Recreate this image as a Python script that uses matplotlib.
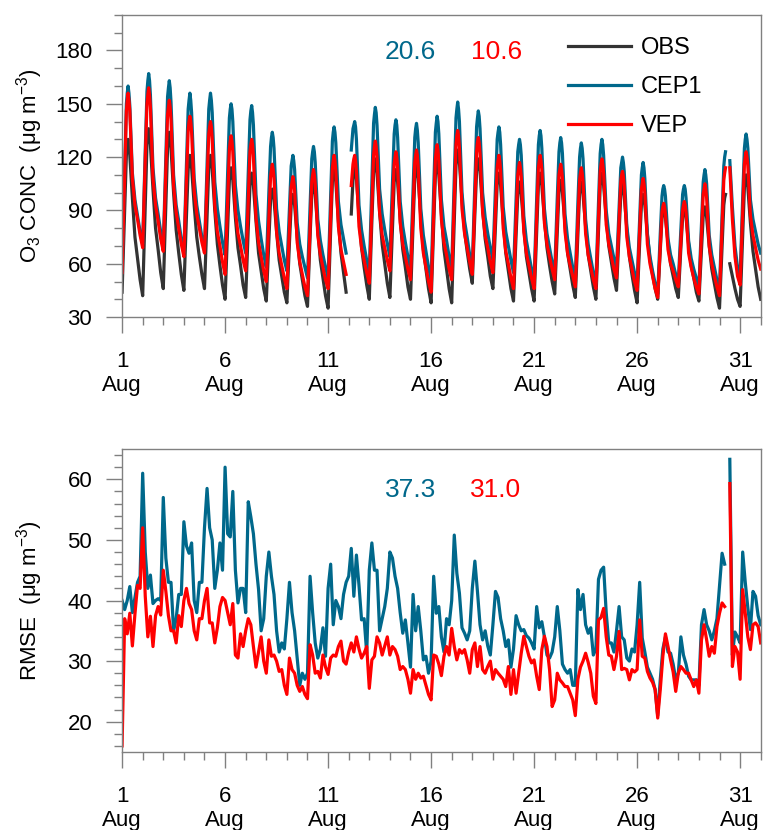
import numpy as np
import matplotlib
matplotlib.use("Agg")
import matplotlib.pyplot as plt

plt.rcParams['font.family'] = ['Liberation Sans', 'DejaVu Sans']
plt.rcParams['mathtext.fontset'] = 'custom'
plt.rcParams['mathtext.rm'] = 'Liberation Sans'
plt.rcParams['mathtext.it'] = 'Liberation Sans:italic'

nan = np.nan

# ---------------- data: top panel (O3 concentration, hours of each day) -------------
HOURS_TOP = [0, 3, 5, 6, 7, 8, 9, 12, 15, 18, 21]
OBS = [
    [44, 91, 121, 127, 130, 127, 121, 97, 75, 63, 51],
    [42, 94, 127, 132, 136, 133, 127, 102, 80, 68, 55],
    [46, 94, 125, 131, 134, 131, 125, 100, 79, 66, 54],
    [45, 87, 113, 118, 121, 118, 114, 93, 75, 64, 54],
    [46, 87, 114, 118, 121, 118, 113, 90, 71, 59, 48],
    [40, 81, 107, 111, 114, 111, 107, 86, 69, 59, 48],
    [41, 80, 104, 108, 111, 108, 104, 84, 66, 56, 46],
    [39, 74, 96, 100, 102, 100, 96, 78, 62, 53, 44],
    [38, 72, 93, 97, 99, 97, 93, 75, 60, 51, 42],
    [36, 75, 99, 103, 106, 103, 99, 79, 62, 52, 42],
    [35, 79, 106, 111, 114, 111, 106, 84, 66, 55, 44],
    [nan, 88, 107, 112, 115, 112, 108, 87, 69, 58, 48],
    [40, 84, 111, 116, 119, 116, 111, 89, 71, 60, 49],
    [41, 81, 106, 110, 113, 110, 106, 85, 68, 58, 47],
    [40, 82, 108, 113, 116, 113, 108, 86, 68, 57, 46],
    [38, 82, 110, 115, 118, 115, 110, 88, 68, 57, 46],
    [38, 85, 115, 121, 124, 121, 117, 96, 78, 67, 57],
    [49, 88, 112, 116, 119, 116, 112, 91, 74, 64, 53],
    [46, 82, 105, 109, 111, 108, 104, 84, 66, 56, 46],
    [39, 76, 99, 103, 106, 103, 99, 81, 64, 55, 46],
    [39, 79, 104, 108, 111, 108, 104, 85, 69, 59, 50],
    [43, 78, 101, 105, 107, 104, 100, 82, 66, 57, 48],
    [41, 77, 100, 103, 106, 103, 99, 81, 65, 56, 47],
    [40, 79, 104, 108, 111, 108, 104, 86, 70, 61, 52],
    [45, 78, 99, 103, 105, 102, 98, 80, 64, 54, 45],
    [38, 72, 93, 97, 99, 97, 93, 77, 62, 54, 46],
    [40, 68, 86, 89, 91, 89, 86, 72, 60, 53, 46],
    [41, 69, 86, 89, 91, 89, 86, 71, 59, 52, 44],
    [39, 68, 87, 90, 92, 90, 86, 70, 57, 49, 41],
    [35, 70, 93, 97, 99, nan, nan, 60, 53, 46, 40],
    [36, 77, 103, 107, 110, 107, 103, 83, 67, 57, 47],
]
OBS_END = 40

CEP1 = [
    [55, 113, 150, 156, 160, 156, 149, 111, 96, 87, 78],
    [71, 124, 157, 163, 167, 163, 155, 114, 97, 88, 78],
    [70, 121, 154, 159, 163, 159, 151, 110, 93, 84, 74],
    [66, 116, 147, 152, 156, 152, 145, 108, 93, 84, 75],
    [68, 116, 147, 152, 156, 152, 145, 106, 91, 81, 72],
    [65, 112, 142, 147, 150, 147, 140, 104, 90, 81, 73],
    [66, 112, 141, 146, 149, 145, 138, 99, 84, 74, 65],
    [58, 100, 126, 131, 134, 131, 125, 91, 78, 70, 62],
    [56, 92, 115, 118, 121, 118, 113, 83, 71, 64, 58],
    [52, 93, 119, 123, 126, 123, 117, 85, 73, 65, 58],
    [52, 99, 129, 134, 137, 134, 128, 95, 82, 74, 66],
    [nan, 124, 136, 138, 140, 137, 130, 93, 79, 70, 62],
    [55, 106, 139, 144, 148, 145, 138, 102, 88, 79, 71],
    [64, 106, 133, 138, 141, 138, 131, 95, 81, 72, 64],
    [57, 102, 131, 136, 139, 135, 128, 91, 76, 67, 58],
    [51, 102, 134, 139, 143, 140, 133, 96, 81, 73, 64],
    [57, 109, 142, 147, 151, 147, 140, 100, 84, 75, 65],
    [58, 106, 137, 142, 146, 143, 136, 100, 86, 77, 69],
    [62, 103, 130, 134, 137, 134, 127, 92, 78, 70, 62],
    [55, 96, 123, 127, 130, 127, 121, 87, 73, 65, 57],
    [51, 97, 127, 132, 135, 132, 125, 91, 77, 69, 61],
    [55, 97, 123, 128, 131, 128, 122, 88, 74, 66, 58],
    [52, 94, 120, 125, 128, 125, 119, 85, 71, 63, 55],
    [49, 94, 122, 127, 130, 127, 121, 90, 77, 70, 63],
    [57, 92, 114, 117, 120, 117, 112, 81, 69, 62, 55],
    [49, 86, 110, 114, 117, 114, 108, 76, 64, 56, 49],
    [43, 77, 98, 102, 104, 102, 98, 74, 65, 60, 54],
    [50, 80, 99, 102, 104, 102, 97, 73, 63, 57, 52],
    [47, 83, 106, 110, 113, 110, 105, 76, 65, 58, 51],
    [46, 88, 115, 120, 123, nan, nan, 118, 92, 70, 58],
    [52, 97, 125, 130, 133, 130, 125, 96, 85, 78, 71],
]
CEP1_END = 66

VEP = [
    [55, 111, 146, 152, 156, 152, 146, 108, 93, 85, 76],
    [69, 119, 150, 155, 159, 155, 148, 108, 93, 84, 74],
    [67, 114, 144, 148, 152, 148, 141, 104, 89, 80, 71],
    [64, 108, 135, 140, 143, 140, 134, 101, 88, 80, 72],
    [66, 107, 133, 137, 140, 137, 130, 93, 78, 70, 61],
    [54, 97, 124, 129, 132, 129, 123, 90, 77, 70, 62],
    [56, 97, 123, 127, 130, 127, 120, 86, 72, 64, 56],
    [50, 86, 109, 113, 116, 113, 108, 78, 66, 59, 52],
    [46, 81, 103, 106, 109, 106, 101, 72, 61, 54, 47],
    [42, 81, 106, 110, 113, 110, 105, 76, 65, 58, 51],
    [46, 87, 114, 118, 121, 118, 112, 81, 68, 61, 54],
    [nan, 104, 116, 119, 121, 118, 112, 81, 69, 62, 55],
    [49, 93, 121, 126, 129, 126, 120, 89, 76, 69, 62],
    [56, 93, 116, 120, 123, 120, 114, 83, 71, 64, 57],
    [51, 91, 117, 121, 124, 121, 114, 80, 66, 58, 50],
    [44, 90, 119, 124, 127, 124, 118, 85, 72, 65, 57],
    [51, 97, 127, 132, 135, 132, 125, 91, 77, 69, 61],
    [54, 96, 123, 128, 131, 128, 122, 89, 76, 69, 61],
    [55, 91, 114, 118, 121, 118, 112, 80, 67, 60, 52],
    [46, 85, 110, 114, 117, 114, 109, 78, 66, 59, 52],
    [46, 87, 114, 118, 121, 118, 113, 83, 71, 64, 57],
    [51, 87, 110, 113, 116, 113, 108, 78, 66, 59, 53],
    [47, 84, 107, 111, 114, 111, 106, 77, 65, 58, 51],
    [46, 86, 112, 116, 119, 116, 111, 82, 71, 64, 57],
    [52, 85, 106, 110, 112, 109, 104, 75, 64, 57, 50],
    [45, 80, 102, 105, 108, 105, 100, 71, 60, 53, 46],
    [41, 70, 89, 92, 94, 92, 88, 68, 60, 56, 51],
    [47, 73, 90, 93, 95, 93, 89, 66, 58, 52, 47],
    [43, 77, 99, 102, 105, 102, 97, 70, 60, 53, 47],
    [42, 82, 107, 111, 114, nan, nan, 114, 85, 64, 53],
    [48, 89, 116, 120, 123, 120, 115, 87, 76, 69, 62],
]
VEP_END = 57

# ---------------- data: bottom panel (RMSE, 3-hourly) -------------
HOURS_BOT = [0, 3, 6, 9, 12, 15, 18, 21]
CEP1_RMSE = [
    [40, 38.5, 40, 42.3, 38, 40.5, 43, 44],
    [61, 48, 42, 44.2, 39.5, 40, 40.3, 40],
    [57, 47, 43, 43, 35, 37, 41, 41],
    [53, 49, 47.8, 49.5, 40, 38, 43, 43],
    [52, 58.5, 52, 50, 42, 45, 49.5, 45],
    [62, 51, 50.5, 58, 45, 39.6, 42, 42],
    [38, 56.3, 53.8, 51, 46, 41.8, 35, 37],
    [44, 48, 44, 41, 35, 31.5, 33, 32],
    [37, 43, 38, 35, 30.5, 26, 28, 27],
    [28, 44, 38, 33, 30.5, 32, 35.5, 30.8],
    [42, 46, 36, 40, 39, 37, 41, 43],
    [44, 48.6, 40.7, 47.5, 42.5, 36.8, 37, 31.3],
    [45, 49.5, 45, 45, 35, 37, 39, 42],
    [48, 47, 44, 42, 38, 34.6, 36.8, 33],
    [29, 41, 35, 39, 35, 30.2, 30.8, 28],
    [30, 44, 37.9, 39, 34, 31.5, 37, 36],
    [40, 50.8, 44.5, 41.2, 35.5, 34.6, 33.5, 35],
    [42, 46.5, 41.5, 36, 33.5, 35, 32.5, 31],
    [36, 41.5, 40.5, 37, 35, 32.4, 33.5, 29],
    [32, 37.5, 36, 35, 35.2, 34.2, 33.8, 33],
    [32, 39, 35.5, 36.5, 34, 31, 30.5, 31.5],
    [34, 39, 35, 29.5, 28.6, 28, 28.6, 26],
    [26, 41.8, 38.5, 41, 36, 34.6, 35.5, 31],
    [32, 43.5, 45, 45.5, 38, 33, 33, 31.5],
    [35, 39, 34, 33.5, 30.5, 30, 32, 31.5],
    [36, 43, 33.8, 31.5, 29, 28, 27, 25.3],
    [21, 27, 32, 34, 31.5, 31.3, 29.5, 27],
    [28, 34, 31, 29.5, 27.5, 26.9, 26.9, 26.9],
    [26, 36, 38.5, 36, 35, 33.5, 35, 37],
    [42.3, 47.8, 46, nan, 63.3, 31, 34.8, 34],
    [33, 48, 43, 38.8, 35.2, 41.5, 40.7, 37.5],
]
CEP1_RMSE_END = 36

VEP_RMSE = [
    [16, 37, 34.5, 37.9, 32.5, 37.8, 42.5, 42],
    [52, 40.7, 34, 37.4, 32.4, 37.5, 39, 37.6],
    [45, 41.5, 37.5, 35, 35, 33, 37.5, 35.7],
    [40, 42, 39.5, 38.5, 35, 33.5, 37, 37],
    [40, 42, 36.3, 36.3, 33, 35.5, 39, 40.5],
    [40, 38, 36, 39.5, 31, 30.5, 34.5, 32.4],
    [35, 37, 36, 32.4, 29, 31.5, 34, 30],
    [28, 33.5, 30.8, 31, 30, 28.3, 28.6, 26],
    [24.5, 30.5, 28.6, 28, 26, 25, 25.8, 24.5],
    [23.8, 32.7, 31, 28, 28.3, 27.2, 31, 29],
    [27.8, 30.5, 31, 30.8, 32.4, 33.3, 30, 29.5],
    [31.5, 33, 31.5, 34, 32, 30.5, 31.3, 32.4],
    [25.5, 30.2, 30.8, 34, 33, 31, 32.5, 34],
    [31, 32.4, 31.9, 30.8, 28.6, 29.1, 28.6, 27],
    [24.7, 28.6, 27, 28, 27.2, 27.5, 26, 24.5],
    [23.6, 31, 30.8, 29.5, 27.6, 30.8, 32.4, 31],
    [35.4, 32.4, 30.2, 31.9, 31.3, 31.9, 30.2, 28],
    [31.9, 33, 29.1, 32.4, 28.6, 28, 29.1, 30],
    [27, 28.6, 28, 27.5, 27, 25.8, 29.1, 24.5],
    [28.6, 24.7, 28, 31.3, 34.1, 32.4, 30.8, 29.7],
    [30.2, 27.5, 25.3, 31.9, 34.1, 32.4, 28.6, 22.5],
    [23.6, 28, 26.9, 26.4, 25.8, 25.8, 24.7, 23.6],
    [21, 27, 29, 30, 31.3, 29.8, 28, 24.2],
    [23, 36.8, 37.2, 38.7, 34, 31, 30.8, 28.6],
    [30.8, 34.9, 28.6, 28.8, 28.6, 26.9, 28.6, 28.2],
    [28.6, 36.8, 30.8, 30.5, 28.3, 27.2, 26.5, 25.3],
    [20.6, 25.3, 30.8, 34.5, 32.4, 30.2, 28.2, 25],
    [28, 29.1, 28.6, 28, 28, 26.9, 25.8, 26.9],
    [24.7, 33.5, 36, 33.5, 30.8, 32.4, 31.3, 35.7],
    [37.9, 39.6, 39, nan, 59.3, 29.1, 32.4, 31.5],
    [27, 41.8, 37.9, 34, 31.9, 36, 36.3, 35.7],
]
VEP_RMSE_END = 33

SERIES_LABELS = ['OBS', 'CEP1', 'VEP']
TOP_SCORES = ['20.6', '10.6']
BOT_SCORES = ['37.3', '31.0']
MAJOR_DAYS = [1, 6, 11, 16, 21, 26, 31]
MONTH = 'Aug'

C_OBS = '#333333'
C_CEP = '#00688B'
C_VEP = '#FF0000'


def build(daily, end, hours):
    t, v = [], []
    for d, vals in enumerate(daily):
        for h, val in zip(hours, vals):
            t.append(1 + d + h / 24.0)
            v.append(val)
    t.append(1 + len(daily))
    v.append(end)
    return np.array(t), np.array(v, dtype=float)


fig = plt.figure(figsize=(7.63, 8.30), dpi=100)
ax1 = fig.add_axes([0.160, 0.618, 0.837, 0.364])
ax2 = fig.add_axes([0.160, 0.094, 0.837, 0.365])

lw = 2.3
for data, end, col, lab in [(OBS, OBS_END, C_OBS, SERIES_LABELS[0]),
                            (CEP1, CEP1_END, C_CEP, SERIES_LABELS[1]),
                            (VEP, VEP_END, C_VEP, SERIES_LABELS[2])]:
    t, v = build(data, end, HOURS_TOP)
    ax1.plot(t, v, color=col, lw=lw, label=lab, solid_joinstyle='round')

for data, end, col in [(CEP1_RMSE, CEP1_RMSE_END, C_CEP),
                       (VEP_RMSE, VEP_RMSE_END, C_VEP)]:
    t, v = build(data, end, HOURS_BOT)
    ax2.plot(t, v, color=col, lw=lw, solid_joinstyle='round')

spine_col = '#808080'
for ax in (ax1, ax2):
    ax.set_xlim(1, 32)
    ax.set_xticks(MAJOR_DAYS)
    ax.set_xticklabels([f'{d}\n{MONTH}' for d in MAJOR_DAYS])
    ax.set_xticks(np.arange(1, 33), minor=True)
    for s in ax.spines.values():
        s.set_color(spine_col)
        s.set_linewidth(1.0)
    ax.tick_params(which='both', direction='out', color=spine_col, width=1.0,
                   labelsize=16, labelcolor='black')
    ax.tick_params(which='major', length=11.5)
    ax.tick_params(which='minor', length=5.5)
    ax.tick_params(axis='x', which='major', pad=13)
    ax.tick_params(axis='y', which='major', pad=10)

ax1.set_ylim(30, 200)
ax1.set_yticks(np.arange(30, 181, 30))
ax1.set_yticks(np.arange(30, 201, 10), minor=True)
ax2.set_ylim(15, 65)
ax2.set_yticks(np.arange(20, 61, 10))
ax2.set_yticks(np.arange(16, 65, 2), minor=True)

ax1.set_ylabel('O$_3$ CONC  (μg m$^{-3}$)', fontsize=16)
ax2.set_ylabel('RMSE  (μg m$^{-3}$)', fontsize=16)
ax1.yaxis.set_label_coords(-0.12, 0.5)
ax2.yaxis.set_label_coords(-0.12, 0.5)

ax1.text(0.452, 0.878, TOP_SCORES[0], color=C_CEP, fontsize=19, ha='center', va='center', transform=ax1.transAxes)
ax1.text(0.586, 0.878, TOP_SCORES[1], color=C_VEP, fontsize=19, ha='center', va='center', transform=ax1.transAxes)
ax2.text(0.452, 0.866, BOT_SCORES[0], color=C_CEP, fontsize=19, ha='center', va='center', transform=ax2.transAxes)
ax2.text(0.585, 0.866, BOT_SCORES[1], color=C_VEP, fontsize=19, ha='center', va='center', transform=ax2.transAxes)

ax1.legend(loc='upper left', bbox_to_anchor=(0.683, 0.958), frameon=False, fontsize=17,
           handlelength=2.7, handletextpad=0.4, labelspacing=0.72, borderaxespad=0)

fig.savefig('out.png', dpi=100)
